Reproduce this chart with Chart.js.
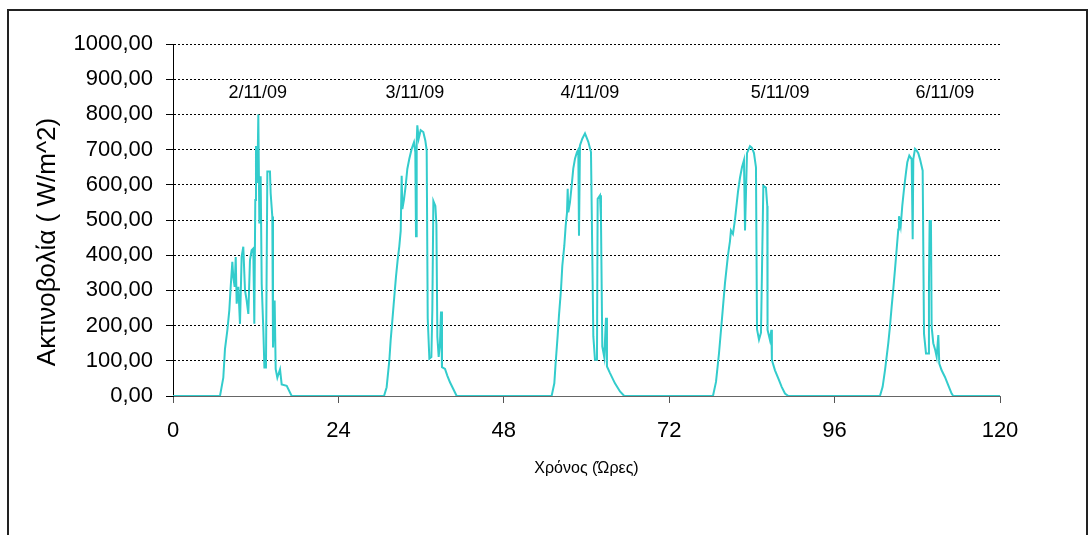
<!DOCTYPE html>
<html lang="el">
<head>
<meta charset="utf-8">
<title>Ακτινοβολία</title>
<style>
body { margin: 0; background: #fff; }
canvas { display: block; }
</style>
</head>
<body>
<canvas id="myChart" width="1090" height="535"></canvas>

<script src="https://cdn.jsdelivr.net/npm/chart.js"></script>
<script>
// hours from start of measurement / irradiance W/m^2, one pair of lists per day
const day1Hours = [6.82, 7.30, 7.54, 7.88, 8.17, 8.37, 8.61, 8.75, 8.95, 9.10, 9.24, 9.48, 9.72, 9.96, 10.20, 10.35, 10.45, 10.69, 10.93, 11.17, 11.41, 11.65, 11.80, 11.94, 12.04, 12.24, 12.38, 12.53, 12.72, 12.87, 13.11, 13.26, 13.49, 13.69, 14.07, 14.17, 14.41, 14.51, 14.75, 14.90, 15.14, 15.53, 15.77, 16.50, 17.22];
const day1Values = [0, 52, 133, 186, 243, 310, 381, 338, 310, 395, 262, 310, 205, 395, 424, 348, 300, 271, 233, 386, 414, 419, 205, 557, 710, 605, 800, 490, 624, 319, 186, 81, 81, 638, 638, 576, 510, 138, 271, 76, 52, 76, 33, 29, 0];

const day2Hours = [30.62, 31.00, 31.39, 31.58, 31.87, 32.11, 32.36, 32.60, 32.84, 33.04, 33.18, 33.28, 33.52, 33.76, 34.00, 34.29, 34.63, 34.97, 35.16, 35.26, 35.36, 35.45, 35.65, 35.94, 36.32, 36.61, 36.81, 36.96, 37.20, 37.49, 37.63, 37.78, 38.07, 38.22, 38.36, 38.55, 38.74, 38.89, 39.03, 39.47, 39.80, 40.19, 40.67, 41.16];
const day2Values = [0, 25, 101, 158, 225, 282, 340, 387, 426, 469, 626, 531, 559, 597, 645, 674, 702, 721, 693, 454, 721, 769, 731, 755, 750, 726, 698, 220, 106, 111, 244, 554, 540, 488, 168, 111, 149, 240, 82, 77, 58, 39, 20, 0];

const day3Hours = [54.94, 55.33, 55.52, 55.81, 56.00, 56.30, 56.49, 56.78, 56.98, 57.17, 57.27, 57.36, 57.60, 57.85, 58.08, 58.33, 58.62, 58.81, 58.91, 59.05, 59.39, 59.78, 60.26, 60.65, 60.99, 61.23, 61.52, 61.62, 61.96, 62.10, 62.29, 62.58, 62.83, 62.97, 63.41, 64.13, 64.86, 65.48];
const day3Values = [0, 36, 93, 170, 227, 303, 370, 427, 484, 520, 589, 522, 550, 598, 646, 674, 693, 700, 455, 712, 731, 746, 722, 693, 170, 103, 103, 560, 570, 503, 141, 110, 222, 84, 65, 36, 13, 0];

const day4Hours = [78.35, 78.79, 79.22, 79.66, 80.09, 80.53, 80.82, 80.96, 81.25, 81.54, 81.98, 82.27, 82.56, 82.85, 83.00, 83.29, 83.72, 84.01, 84.30, 84.59, 84.74, 85.03, 85.32, 85.66, 86.04, 86.23, 86.27, 86.62, 86.82, 86.90, 87.35, 87.83, 88.32, 88.80, 89.29];
const day4Values = [0, 40, 120, 220, 320, 400, 440, 470, 460, 500, 580, 620, 650, 670, 470, 690, 710, 705, 690, 650, 190, 160, 180, 597, 592, 540, 188, 159, 188, 102, 73, 50, 26, 7, 0];

const day5Hours = [102.58, 102.97, 103.31, 103.55, 103.79, 104.03, 104.28, 104.51, 104.76, 105.00, 105.24, 105.34, 105.59, 105.82, 106.07, 106.36, 106.55, 106.84, 107.18, 107.33, 107.42, 107.67, 107.91, 108.14, 108.39, 108.78, 108.97, 109.26, 109.59, 109.69, 109.79, 109.98, 110.08, 110.32, 110.61, 110.81, 111.05, 111.19, 111.53, 112.01, 112.50, 112.98, 113.22];
const day5Values = [0, 26, 73, 111, 150, 197, 254, 302, 359, 416, 473, 511, 483, 540, 588, 635, 664, 683, 673, 445, 673, 702, 697, 690, 673, 640, 178, 121, 121, 320, 497, 497, 197, 150, 130, 111, 173, 92, 73, 54, 30, 7, 0];

// dates written above each day
const dateLabels = ['2/11/09', '3/11/09', '4/11/09', '5/11/09', '6/11/09'];
const dateLabelHours = [12.3, 35.1, 60.5, 88.1, 112.0];
const dateLabelLevel = 862;

const xTicks = [0, 24, 48, 72, 96, 120];
const yTicks = [0, 100, 200, 300, 400, 500, 600, 700, 800, 900, 1000];

const fontFamily = "'Liberation Sans', Arial, sans-serif";

// whole series, night hours stay at zero
const points = [{x: 0, y: 0}];
[[day1Hours, day1Values], [day2Hours, day2Values], [day3Hours, day3Values],
 [day4Hours, day4Values], [day5Hours, day5Values]].forEach(([hrs, vals]) => {
  hrs.forEach((h, i) => points.push({x: h, y: vals[i]}));
});
points.push({x: 120, y: 0});

const textPlugin = {
  id: 'texts',
  afterDraw(chart) {
    const ctx = chart.ctx;
    const xs = chart.scales.x, ys = chart.scales.y;
    ctx.save();
    ctx.fillStyle = '#000';
    ctx.textAlign = 'center';
    ctx.textBaseline = 'middle';

    ctx.font = '18px ' + fontFamily;
    dateLabels.forEach((t, i) => {
      ctx.fillText(t, xs.getPixelForValue(dateLabelHours[i]), ys.getPixelForValue(dateLabelLevel));
    });

    ctx.font = '16px ' + fontFamily;
    ctx.fillText('Χρόνος (Ώρες)', (xs.left + xs.right) / 2, 469);

    ctx.translate(48, 242);
    ctx.rotate(-Math.PI / 2);
    ctx.font = '26px ' + fontFamily;
    ctx.fillText('Ακτινοβολία ( W/m^2)', 0, 0);
    ctx.restore();

    // outer frame
    ctx.save();
    ctx.strokeStyle = '#222';
    ctx.lineWidth = 2;
    ctx.strokeRect(8, 10, 1079, 560);
    ctx.restore();
  }
};

const ctx = document.getElementById('myChart');
new Chart(ctx, {
  type: 'line',
  data: {
    datasets: [{
      label: 'Ακτινοβολία',
      data: points,
      borderColor: '#33CCCC',
      borderWidth: 2,
      pointRadius: 0,
      tension: 0
    }]
  },
  options: {
    responsive: false,
    animation: false,
    devicePixelRatio: 1,
    layout: { padding: { left: 0, right: 90, top: 44, bottom: 0 } },
    plugins: { legend: { display: false }, tooltip: { enabled: false } },
    scales: {
      x: {
        type: 'linear',
        min: 0,
        max: 120,
        afterFit: s => { s.height = 139; },
        afterBuildTicks: s => { s.ticks = xTicks.map(v => ({value: v})); },
        grid: { drawOnChartArea: false, drawTicks: true, tickLength: 7, tickColor: '#555' },
        border: { color: '#666', width: 1 },
        ticks: { color: '#000', padding: 15, maxRotation: 0, font: { family: fontFamily, size: 22 } }
      },
      y: {
        min: 0,
        max: 1000,
        afterFit: s => { s.width = 173; },
        afterBuildTicks: s => { s.ticks = yTicks.map(v => ({value: v})); },
        grid: {
          color: c => (c.tick && c.tick.value === 0) ? 'rgba(0,0,0,0)' : '#000',
          lineWidth: 1,
          drawTicks: true,
          tickLength: 7,
          tickColor: '#000'
        },
        border: { color: '#000', width: 1, dash: [2, 2] },
        ticks: {
          color: '#000',
          padding: 13,
          font: { family: fontFamily, size: 22 },
          callback: v => v.toFixed(2).replace('.', ',')
        }
      }
    }
  },
  plugins: [textPlugin]
});
</script>
</body>
</html>
